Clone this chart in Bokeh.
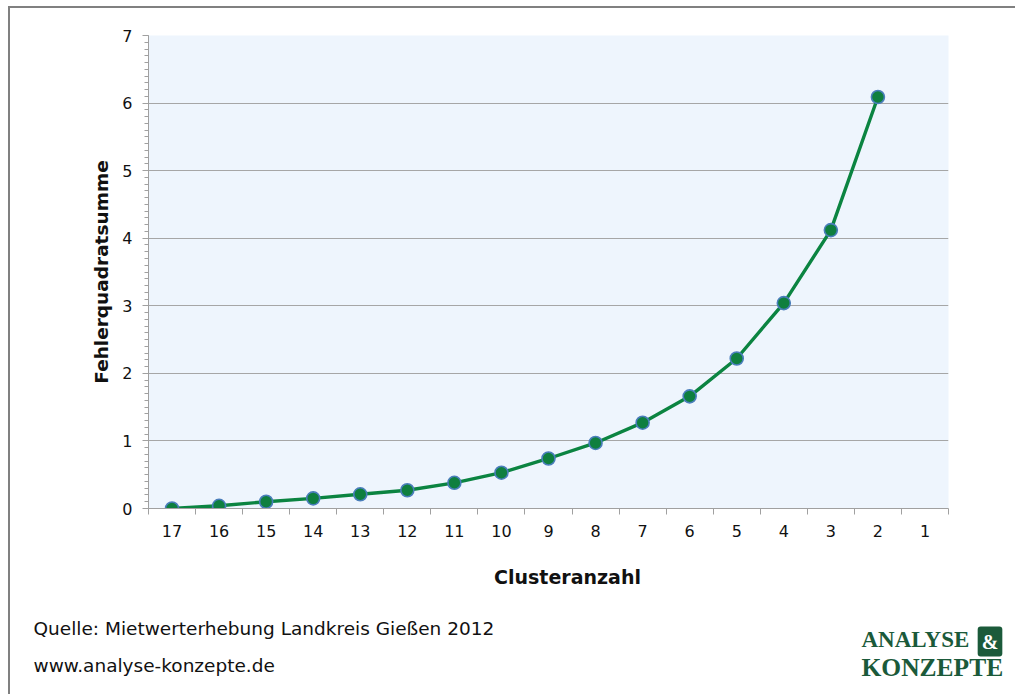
from bokeh.plotting import figure
from bokeh.models import Range1d, FixedTicker, Label
from bokeh.embed import file_html
from bokeh.resources import INLINE

# ---- data ----
cluster_labels = ["17", "16", "15", "14", "13", "12", "11", "10", "9",
                  "8", "7", "6", "5", "4", "3", "2", "1"]
sse_values = [0.00, 0.04, 0.10, 0.15, 0.21, 0.27, 0.38, 0.53, 0.74,
              0.97, 1.27, 1.66, 2.22, 3.04, 4.12, 6.09]
y_ticks = [0, 1, 2, 3, 4, 5, 6, 7]
x_title = "Clusteranzahl"
y_title = "Fehlerquadratsumme"
source_text = "Quelle: Mietwerterhebung Landkreis Gießen 2012"
url_text = "www.analyse-konzepte.de"
logo_line1 = "ANALYSE"
logo_amp = "&"
logo_line2 = "KONZEPTE"

n_cat = len(cluster_labels)
xs = [i + 0.5 for i in range(len(sse_values))]

FONT = "DejaVu Sans"
GRAY = "#a0a0a0"
TXT = "#111111"
W = 1007

p = figure(width=W, height=540, output_backend="svg", toolbar_location=None,
           x_range=Range1d(0, n_cat), y_range=Range1d(0, y_ticks[-1]),
           min_border_left=138, min_border_right=W - 938,
           min_border_top=27, min_border_bottom=40)
p.styles = {"border-top": "2px solid #808080", "border-left": "2px solid #808080",
            "margin-left": "8px", "margin-top": "6px"}
p.background_fill_color = "#eef5fd"
p.border_fill_color = "white"
p.outline_line_color = None

p.xgrid.visible = False
p.ygrid.grid_line_color = "#a6a6a6"
p.ygrid.grid_line_width = 1

# y axis
p.yaxis.ticker = FixedTicker(ticks=y_ticks,
                             minor_ticks=[i / 10 for i in range(y_ticks[-1] * 10 + 1)])
p.yaxis.axis_line_color = GRAY
p.yaxis.major_tick_line_color = GRAY
p.yaxis.minor_tick_line_color = GRAY
p.yaxis.major_tick_out = 6
p.yaxis.major_tick_in = 0
p.yaxis.minor_tick_out = 4
p.yaxis.minor_tick_in = 0
p.yaxis.major_label_text_font = FONT
p.yaxis.major_label_text_font_size = "16px"
p.yaxis.major_label_text_color = TXT
p.yaxis.major_label_standoff = 10
p.yaxis.axis_label = y_title
p.yaxis.axis_label_text_font = FONT
p.yaxis.axis_label_text_font_style = "bold"
p.yaxis.axis_label_text_font_size = "18.5px"
p.yaxis.axis_label_text_color = TXT
p.yaxis.axis_label_standoff = 7

# x axis (labels at category centres, ticks on boundaries)
p.xaxis.ticker = FixedTicker(ticks=[i + 0.5 for i in range(n_cat)],
                             minor_ticks=list(range(n_cat + 1)))
p.xaxis.major_label_overrides = {i + 0.5: lab for i, lab in enumerate(cluster_labels)}
p.xaxis.axis_line_color = GRAY
p.xaxis.major_tick_line_color = None
p.xaxis.minor_tick_line_color = GRAY
p.xaxis.minor_tick_out = 6
p.xaxis.minor_tick_in = 0
p.xaxis.major_label_text_font = FONT
p.xaxis.major_label_text_font_size = "16px"
p.xaxis.major_label_text_color = TXT
p.xaxis.major_label_standoff = 10

p.line(xs, sse_values, line_color="#0b8441", line_width=3.4)
p.scatter(xs, sse_values, size=13, fill_color="#0f7f3f",
          line_color="#4a7ebb", line_width=1.6)

# ---- footer: axis title, source, logo (separate root, full-width frame) ----
f = figure(width=W, height=148, output_backend="svg", toolbar_location=None,
           x_range=Range1d(0, 1), y_range=Range1d(0, 1),
           min_border_left=0, min_border_right=0, min_border_top=0, min_border_bottom=0)
f.styles = {"border-left": "2px solid #808080", "margin-left": "8px"}
f.axis.visible = False
f.grid.visible = False
f.outline_line_color = None
f.background_fill_color = "white"
f.border_fill_color = "white"


def lab(text, x, y, **kw):
    opts = dict(x_units="screen", y_units="screen", text_font=FONT,
                text_font_size="18.5px", text_color=TXT, text_baseline="middle")
    opts.update(kw)
    f.add_layout(Label(x=x, y=y, text=text, **opts))


lab(x_title, 557, 118, text_align="center", text_font_style="bold", text_font_size="19px")
lab(source_text, 23, 66, text_align="left")
lab(url_text, 23, 29, text_align="left")

LOGO = "#1b5a3a"
lab(logo_line1, 851, 55, text_align="left", text_font="Liberation Serif",
    text_font_style="bold", text_font_size="23px", text_color=LOGO)
lab(logo_amp, 979.5, 53, text_align="center", text_font="Liberation Serif",
    text_font_style="bold", text_font_size="20px", text_color="white",
    background_fill_color=LOGO, padding=4, border_radius=3)
lab(logo_line2, 851, 27, text_align="left", text_font="Liberation Serif",
    text_font_style="bold", text_font_size="25.5px", text_color=LOGO)

open("out.html", "w").write(file_html([p, f], INLINE))
